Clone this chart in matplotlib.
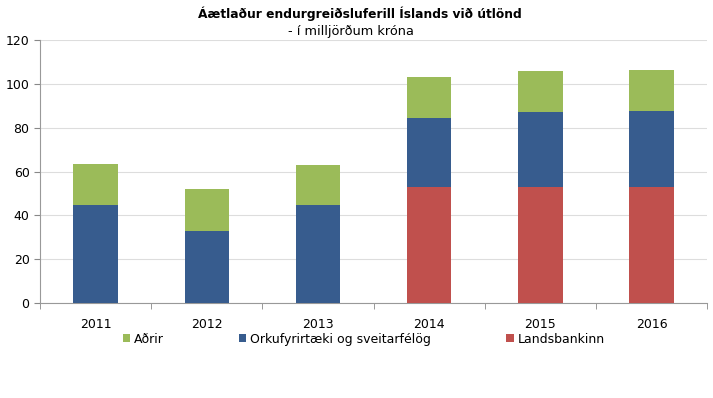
import numpy as np
import matplotlib.pyplot as plt

years = ["2011", "2012", "2013", "2014", "2015", "2016"]
landsbankinn = [0, 0, 0, 53, 53, 53]
orku = [44.5, 33, 44.5, 31.3, 34.4, 34.8]
adrir = [19, 19, 18.5, 18.7, 18.6, 18.7]

c_green = "#9BBB59"
c_blue = "#375C8E"
c_red = "#C0504D"

plt.rcParams["font.family"] = ["DejaVu Sans"]

fig = plt.figure(figsize=(7.13, 3.98), dpi=100)
ax = fig.add_axes([0.056, 0.239, 0.936, 0.66])

x = np.arange(len(years))
w = 0.4
b1 = ax.bar(x, landsbankinn, w, color=c_red, label="Landsbankinn", zorder=3)
b2 = ax.bar(x, orku, w, bottom=landsbankinn, color=c_blue,
            label="Orkufyrirtæki og sveitarfélög", zorder=3)
bottom2 = np.array(landsbankinn) + np.array(orku)
b3 = ax.bar(x, adrir, w, bottom=bottom2, color=c_green, label="Aðrir", zorder=3)

ax.set_xlim(-0.5, len(years) - 0.5)
ax.set_ylim(0, 120)
ax.set_yticks(range(0, 121, 20))
ax.set_xticks(x)
ax.set_xticklabels(years)
ax.set_xticks(np.arange(-0.5, len(years), 1), minor=True)
ax.tick_params(axis="x", which="major", length=0, labelsize=9, pad=11)
ax.tick_params(axis="x", which="minor", length=4, color="#888888")
ax.tick_params(axis="y", length=4, color="#888888", labelsize=9)
ax.grid(axis="y", color="#DDDDDD", linewidth=0.8, zorder=0)
for s in ["top", "right"]:
    ax.spines[s].set_visible(False)
ax.spines["left"].set_color("#999999")
ax.spines["bottom"].set_color("#999999")

fig.text(0.505, 0.955, "Áætlaður endurgreiðsluferill Íslands við útlönd",
         ha="center", fontsize=8.8, fontweight="bold")
fig.text(0.492, 0.913, "- í milljörðum króna", ha="center", fontsize=9.3)

fig.legend(handles=[b3, b2, b1], loc="center", bbox_to_anchor=(0.51, 0.148),
           ncol=3, frameon=False, fontsize=9, handlelength=0.6,
           handleheight=0.6, handletextpad=0.3, columnspacing=6)

fig.savefig("out.png", dpi=100)
